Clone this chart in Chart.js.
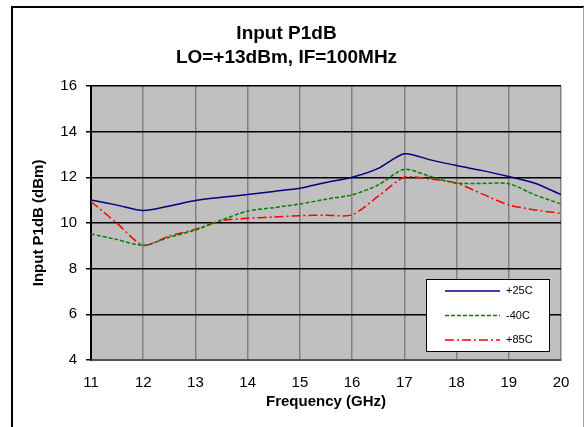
<!DOCTYPE html>
<html>
<head>
<meta charset="utf-8">
<title>Input P1dB</title>
<script src="https://cdn.jsdelivr.net/npm/chart.js@4.4.1/dist/chart.umd.min.js"></script>
<style>
  html, body { margin: 0; padding: 0; background: #fff; }
  #wrap { width: 585px; height: 427px; position: relative; }
</style>
</head>
<body>
<div id="wrap"><canvas id="p1db-chart"></canvas></div>
<script>
// ---- data (GHz / dBm) ----
const FREQS = [11, 11.5, 12, 12.5, 13, 13.5, 14, 14.5, 15, 15.5, 16, 16.5, 17, 17.5, 18, 18.5, 19, 19.5, 20];
const P1DB_25C = [11.0, 10.78, 10.54, 10.74, 10.98, 11.12, 11.24, 11.38, 11.52, 11.77, 12.0, 12.39, 13.03, 12.76, 12.51, 12.29, 12.03, 11.74, 11.24];
const P1DB_M40C = [9.52, 9.27, 9.02, 9.37, 9.69, 10.13, 10.52, 10.67, 10.83, 11.04, 11.23, 11.66, 12.35, 12.03, 11.74, 11.73, 11.72, 11.23, 10.83];
const P1DB_85C = [10.94, 9.98, 9.02, 9.43, 9.72, 10.1, 10.2, 10.26, 10.32, 10.34, 10.35, 11.17, 12.0, 11.92, 11.74, 11.26, 10.79, 10.57, 10.42];
const SERIES_LABELS = ["+25C", "-40C", "+85C"];
const X_MIN = 11, X_MAX = 20;
const Y_MIN = 4, Y_MAX = 16, Y_STEP = 2;

const FONT = "'Liberation Sans', Arial, sans-serif";

const toPoints = (vals) => FREQS.map((f, i) => ({ x: f, y: vals[i] }));

// plot background + outer frame of the chart object
const framePlugin = {
  id: "frame",
  beforeDraw(chart) {
    const { ctx, chartArea: a, width, height } = chart;
    ctx.save();
    ctx.fillStyle = "#fff";
    ctx.fillRect(0, 0, width, height);
    ctx.fillStyle = "#c0c0c0";
    ctx.fillRect(a.left, a.top, a.right - a.left, a.bottom - a.top);
    ctx.lineWidth = 2;
    ctx.strokeStyle = "#000";
    ctx.beginPath();
    ctx.moveTo(12, height);
    ctx.lineTo(12, 7);
    ctx.lineTo(width - 1, 7);
    ctx.stroke();
    ctx.strokeStyle = "#a0a0a0";
    ctx.lineWidth = 1;
    ctx.beginPath();
    ctx.moveTo(width - 1.5, 7);
    ctx.lineTo(width - 1.5, height);
    ctx.stroke();
    ctx.restore();
  },
};

// boxed legend inside the lower right of the plot
const insideLegend = {
  id: "insideLegend",
  afterDraw(chart) {
    const { ctx, chartArea: a } = chart;
    const w = 123, h = 72;
    const x = a.right - 12 - w, y = a.bottom - 9 - h;
    ctx.save();
    ctx.fillStyle = "#fff";
    ctx.fillRect(x, y, w, h);
    ctx.strokeStyle = "#000";
    ctx.lineWidth = 1;
    ctx.strokeRect(x + 0.5, y + 0.5, w, h);
    ctx.font = "11px " + FONT;
    ctx.textBaseline = "middle";
    ctx.textAlign = "left";
    chart.data.datasets.forEach((ds, i) => {
      const ry = y + 12 + i * 24.5;
      ctx.strokeStyle = ds.borderColor;
      ctx.lineWidth = 1.5;
      ctx.setLineDash(ds.borderDash || []);
      ctx.beginPath();
      ctx.moveTo(x + 19, ry);
      ctx.lineTo(x + 74, ry);
      ctx.stroke();
      ctx.setLineDash([]);
      ctx.fillStyle = "#000";
      ctx.fillText(ds.label, x + 80, ry);
    });
    ctx.restore();
  },
};

new Chart(document.getElementById("p1db-chart"), {
  type: "line",
  data: {
    datasets: [
      {
        label: SERIES_LABELS[0],
        data: toPoints(P1DB_25C),
        borderColor: "#000080",
        borderWidth: 1.5,
      },
      {
        label: SERIES_LABELS[1],
        data: toPoints(P1DB_M40C),
        borderColor: "#008000",
        borderWidth: 1.5,
        borderDash: [4, 2],
      },
      {
        label: SERIES_LABELS[2],
        data: toPoints(P1DB_85C),
        borderColor: "#ff0000",
        borderWidth: 1.5,
        borderDash: [9, 3, 2, 3],
      },
    ],
  },
  options: {
    responsive: true,
    maintainAspectRatio: false,
    animation: false,
    devicePixelRatio: 1,
    elements: { point: { radius: 0 }, line: { tension: 0.25 } },
    layout: { padding: { left: 12, right: 24, top: 0, bottom: 0 } },
    plugins: {
      legend: { display: false },
      tooltip: { enabled: false },
      title: {
        display: true,
        text: ["Input P1dB", "LO=+13dBm, IF=100MHz"],
        color: "#000",
        font: { family: FONT, size: 19, weight: "bold", lineHeight: 1.26 },
        padding: { top: 22, bottom: 16 },
      },
    },
    scales: {
      x: {
        type: "linear",
        min: X_MIN,
        max: X_MAX,
        ticks: { stepSize: 1, color: "#000", font: { family: FONT, size: 15 }, padding: 14 },
        grid: { color: "#808080", lineWidth: 1.5, drawTicks: false },
        border: { color: "#555", width: 2 },
        title: {
          display: true,
          text: "Frequency (GHz)",
          color: "#000",
          font: { family: FONT, size: 15, weight: "bold" },
          padding: { top: 0, bottom: 16 },
        },
        afterFit: (s) => { s.height = 67; },
      },
      y: {
        min: Y_MIN,
        max: Y_MAX,
        ticks: { stepSize: Y_STEP, color: "#000", font: { family: FONT, size: 15 }, padding: 9 },
        grid: { color: "#000", lineWidth: 1.5, tickLength: 5 },
        border: { color: "#000", width: 2 },
        title: {
          display: true,
          text: "Input P1dB (dBm)",
          color: "#000",
          font: { family: FONT, size: 15, weight: "bold" },
          padding: { top: 18, bottom: 0 },
        },
        afterFit: (s) => { s.width = 79; },
      },
    },
  },
  plugins: [framePlugin, insideLegend],
});
</script>
</body>
</html>
